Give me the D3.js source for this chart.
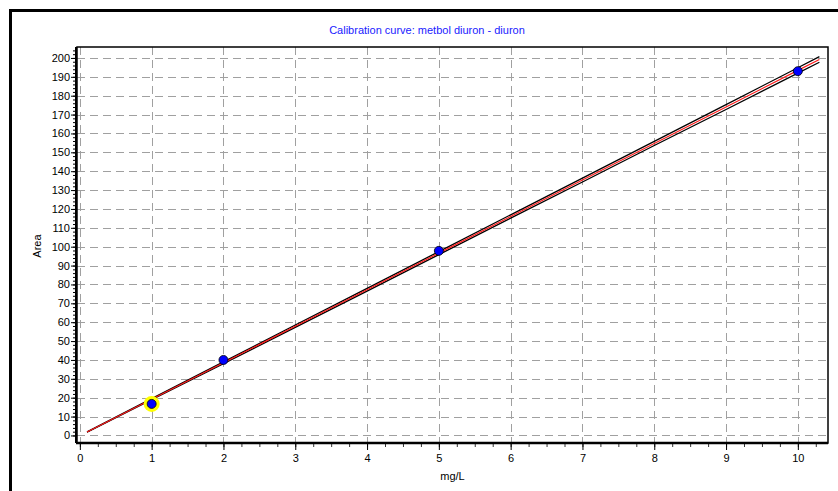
<!DOCTYPE html>
<html>
<head>
<meta charset="utf-8">
<script src="https://cdn.jsdelivr.net/npm/d3@7"></script>
<style>
  body { margin: 0; background: #fff; }
  svg { display: block; font-family: "Liberation Sans", Arial, sans-serif; }
</style>
</head>
<body>
<main></main>
<script>
// calibration standards (mg/L, area)
const stdConc = [1, 2, 5, 10]
const stdArea = [16.7, 40, 97.8, 193]

// fitted curve and its confidence band
const fitX = [0.1, 1, 2, 3, 4, 5, 6, 7, 8, 9, 10, 10.3]
const fitY = [1.8, 19.2, 38.5, 57.9, 77.2, 96.6, 116, 135.3, 154.7, 174, 193.4, 199.2]
const upperY = [1.9, 19.5, 39.0, 58.5, 77.9, 97.4, 116.9, 136.3, 155.8, 175.3, 194.8, 200.7]
const lowerY = [1.7, 18.9, 38.0, 57.3, 76.5, 95.8, 115.1, 134.3, 153.6, 172.7, 192.0, 197.7]

const xTicks = [0, 1, 2, 3, 4, 5, 6, 7, 8, 9, 10]
const yTicks = d3.range(0, 201, 10)

const width = 838
const height = 491
const plot = { left: 77, top: 47, right: 828, bottom: 443 }

const svg = d3.select('main')
              .append('svg')
              .attr('width', width)
              .attr('height', height)

// outer frame (runs off the right and bottom edge)
svg.append('rect')
    .attr('x', 10.5).attr('y', 10.5)
    .attr('width', 900).attr('height', 600)
    .attr('fill', 'none')
    .attr('stroke', '#000')
    .attr('stroke-width', 3)

const x = d3.scaleLinear()
            .domain([-0.04, 10.42])
            .range([plot.left, plot.right])

const y = d3.scaleLinear()
            .domain([-4, 205.8])
            .range([plot.bottom, plot.top])

svg.append('text')
    .attr('x', 427)
    .attr('y', 34)
    .attr('text-anchor', 'middle')
    .attr('fill', '#1a1aff')
    .style('font-size', '11px')
    .text('Calibration curve: metbol diuron - diuron')

// grid
const grid = svg.append('g').attr('stroke', '#a0a0a0').attr('stroke-dasharray', '8,5').attr('stroke-width', 1)
grid.selectAll('.hg')
    .data(yTicks)
    .enter()
    .append('line')
    .attr('x1', plot.left).attr('x2', plot.right)
    .attr('y1', d => Math.round(y(d)) + 0.5).attr('y2', d => Math.round(y(d)) + 0.5)
grid.selectAll('.vg')
    .data(xTicks)
    .enter()
    .append('line')
    .attr('y1', plot.top).attr('y2', plot.bottom)
    .attr('x1', d => Math.round(x(d)) + 0.5).attr('x2', d => Math.round(x(d)) + 0.5)

// axes
const xAxis = svg.append('g')
    .attr('transform', `translate(0, ${plot.bottom})`)
    .call(d3.axisBottom(x).tickValues(d3.range(0, 10.3, 0.25)).tickSize(4).tickFormat(''))
xAxis.select('.domain').remove()
xAxis.selectAll('line').attr('stroke', '#333')

const xMajor = svg.append('g')
    .attr('transform', `translate(0, ${plot.bottom})`)
    .call(d3.axisBottom(x).tickValues(xTicks).tickSize(7).tickPadding(4).tickFormat(d3.format('d')))
xMajor.select('.domain').remove()
xMajor.selectAll('text').style('font-size', '11px').attr('fill', '#000')

const yAxis = svg.append('g')
    .attr('transform', `translate(${plot.left - 1}, 0)`)
    .call(d3.axisLeft(y).tickValues(d3.range(0, 205, 2)).tickSize(3).tickFormat(''))
yAxis.select('.domain').remove()

const yMajor = svg.append('g')
    .attr('transform', `translate(${plot.left - 1}, 0)`)
    .call(d3.axisLeft(y).tickValues(yTicks).tickSize(5).tickPadding(1).tickFormat(d3.format('d')))
yMajor.select('.domain').remove()
yMajor.selectAll('text').style('font-size', '11px').attr('fill', '#000')

// plot border
svg.append('rect')
    .attr('x', plot.left).attr('y', plot.top)
    .attr('width', plot.right - plot.left)
    .attr('height', plot.bottom - plot.top)
    .attr('fill', 'none')
    .attr('stroke', '#000')
    .attr('stroke-width', 1.5)
svg.append('line')
    .attr('x1', plot.left - 1).attr('x2', plot.right)
    .attr('y1', plot.bottom).attr('y2', plot.bottom)
    .attr('stroke', '#000').attr('stroke-width', 2.5)
svg.append('line')
    .attr('x1', plot.left - 1).attr('x2', plot.left - 1)
    .attr('y1', plot.top).attr('y2', plot.bottom)
    .attr('stroke', '#000').attr('stroke-width', 2)

// axis titles
svg.append('text')
    .attr('x', (plot.left + plot.right) / 2)
    .attr('y', 480)
    .attr('text-anchor', 'middle')
    .style('font-size', '11px')
    .text('mg/L')

svg.append('text')
    .attr('transform', `translate(41, 246) rotate(-90)`)
    .attr('text-anchor', 'middle')
    .style('font-size', '11px')
    .text('Area')

// curves
const lineOf = ys => d3.line()
    .x((d, i) => x(fitX[i]))
    .y(d => y(d))(ys)

svg.append('path').attr('d', lineOf(upperY)).attr('fill', 'none').attr('stroke', '#000').attr('stroke-width', 1.3)
svg.append('path').attr('d', lineOf(lowerY)).attr('fill', 'none').attr('stroke', '#000').attr('stroke-width', 1.3)
svg.append('path').attr('d', lineOf(fitY)).attr('fill', 'none').attr('stroke', '#ff1a1a').attr('stroke-width', 1.2)

// highlighted standard
svg.append('circle')
    .attr('cx', x(stdConc[0]))
    .attr('cy', y(stdArea[0]))
    .attr('r', 8)
    .attr('fill', '#ffff00')

svg.selectAll('.pt')
    .data(stdArea)
    .enter()
    .append('circle')
    .attr('cx', (d, i) => x(stdConc[i]))
    .attr('cy', d => y(d))
    .attr('r', 4.5)
    .attr('fill', '#0000ff')
    .attr('stroke', '#000')
    .attr('stroke-width', 0.8)
</script>
</body>
</html>
